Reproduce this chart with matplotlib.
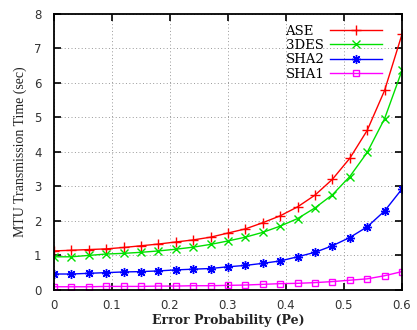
import numpy as np
import matplotlib
matplotlib.use("Agg")
import matplotlib.pyplot as plt
from matplotlib.transforms import Bbox

pe = [0.00, 0.03, 0.06, 0.09, 0.12, 0.15, 0.18, 0.21, 0.24, 0.27, 0.30,
      0.33, 0.36, 0.39, 0.42, 0.45, 0.48, 0.51, 0.54, 0.57, 0.60]
ase = [1.12, 1.14, 1.16, 1.18, 1.22, 1.27, 1.32, 1.38, 1.44, 1.52, 1.64,
       1.76, 1.94, 2.14, 2.40, 2.74, 3.20, 3.81, 4.62, 5.78, 7.41]
des3 = [0.95, 0.95, 0.99, 1.03, 1.05, 1.08, 1.12, 1.17, 1.23, 1.31, 1.41,
        1.52, 1.66, 1.84, 2.06, 2.37, 2.75, 3.28, 3.98, 4.96, 6.36]
sha2 = [0.45, 0.45, 0.47, 0.49, 0.51, 0.52, 0.54, 0.57, 0.59, 0.61, 0.66,
        0.70, 0.76, 0.83, 0.95, 1.08, 1.27, 1.51, 1.82, 2.28, 2.92]
sha1 = [0.08, 0.08, 0.08, 0.09, 0.09, 0.09, 0.10, 0.10, 0.11, 0.11, 0.12,
        0.13, 0.15, 0.17, 0.18, 0.20, 0.23, 0.27, 0.31, 0.40, 0.52]
labels = ["ASE", "3DES", "SHA2", "SHA1"]
xticks = [0, 0.1, 0.2, 0.3, 0.4, 0.5, 0.6]
xticklabels = ["0", "0.1", "0.2", "0.3", "0.4", "0.5", "0.6"]
yticks = [0, 1, 2, 3, 4, 5, 6, 7, 8]

fig = plt.figure(figsize=(4.17, 3.30), dpi=100)
ax = fig.add_axes([0.1295, 0.1227, 0.8345, 0.8349])

ax.plot(pe, ase, color="#ff0000", lw=1.0, marker="+", ms=6.5, mew=1.0, label=labels[0])
ax.plot(pe, des3, color="#00e000", lw=1.0, marker="x", ms=5.5, mew=1.0, label=labels[1])
ax.plot(pe, sha2, color="#0000ff", lw=1.0, marker=(8, 2, 0), ms=6.5, mew=1.0, label=labels[2])
ax.plot(pe, sha1, color="#ff00ff", lw=1.0, marker="s", ms=4.5, mew=1.0, mfc="none", label=labels[3])

ax.set_xlim(0, 0.6)
ax.set_ylim(0, 8)
ax.set_xticks(xticks)
ax.set_xticklabels(xticklabels)
ax.set_yticks(yticks)
ax.tick_params(direction="in", length=5, width=1.2, top=True, right=True,
               labelsize=8.5, labelcolor="#333333")
ax.tick_params(axis="x", pad=7)
ax.tick_params(axis="y", pad=9)
for lab in ax.get_xticklabels() + ax.get_yticklabels():
    lab.set_family("DejaVu Sans")
ax.grid(True, color="#999999", linestyle=(0, (1, 2.5)), lw=0.7)
for s in ax.spines.values():
    s.set_linewidth(1.3)

ax.set_xlabel("Error Probability (Pe)", family="DejaVu Serif", fontsize=9,
              fontweight="bold", color="#222222", labelpad=1)
ax.set_ylabel("MTU Transmission Time (sec)", family="Liberation Serif", fontsize=10,
              color="#222222", labelpad=5)

leg = ax.legend(loc="upper right", frameon=False, markerfirst=False,
                prop={"family": "DejaVu Serif", "size": 9.5},
                handlelength=4.0, handletextpad=0.4, labelspacing=0.1,
                borderaxespad=0.3, bbox_to_anchor=(0.97, 0.995))

# left-align legend texts (text sits to the left of the sample line)
try:
    tas = [item.get_children()[0]
           for col in leg._legend_handle_box.get_children()
           for item in col.get_children()]
    origs = [ta.get_bbox for ta in tas]

    def make_gb(i):
        def gb(renderer):
            bbs = [o(renderer) for o in origs]
            w = max(b.width for b in bbs)
            b = bbs[i]
            return Bbox.from_bounds(b.x0, b.y0, w, b.height)
        return gb

    for i, ta in enumerate(tas):
        ta.get_bbox = make_gb(i)
except Exception:
    pass

fig.savefig("out.png", dpi=100)
